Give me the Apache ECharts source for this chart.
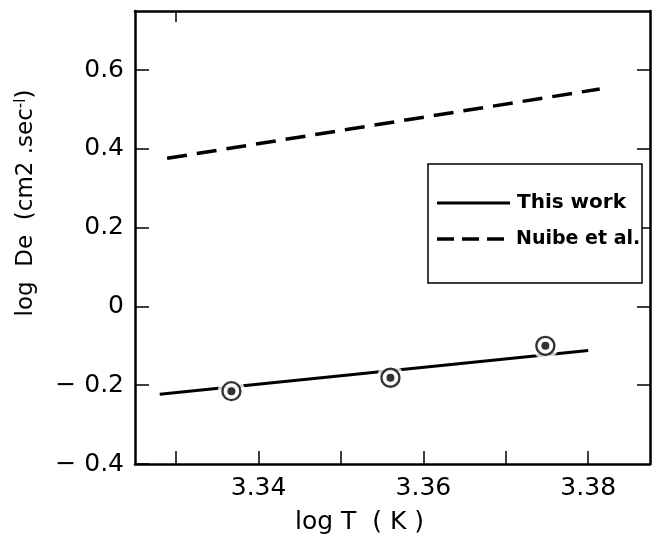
<!DOCTYPE html>
<html>
<head>
<meta charset="utf-8">
<script src="https://cdn.jsdelivr.net/npm/echarts@6/dist/echarts.min.js"></script>
<style>
html,body{margin:0;padding:0;background:#fff;}
#c{width:668px;height:541px;}
</style>
</head>
<body>
<div id="c"></div>
<script>
// Data
const thisWorkLine = [[3.328, -0.223], [3.380, -0.112]];
const thisWorkPoints = [[3.3367, -0.215], [3.356, -0.181], [3.3748, -0.100]];
const nuibeLine = [[3.3289, 0.376], [3.3814, 0.552]];
const xTickValues = [3.33, 3.34, 3.35, 3.36, 3.37, 3.38];
const xLabelValues = [3.34, 3.36, 3.38];
const yTickValues = [-0.4, -0.2, 0, 0.2, 0.4, 0.6];
const yLabelText = {'-0.4': '\u2212 0.4', '-0.2': '\u2212 0.2', '0': '0', '0.2': '0.2', '0.4': '0.4', '0.6': '0.6'};
const seriesNames = ['This work', 'Nuibe et al.'];

const FONT = 'DejaVu Sans';
const chart = echarts.init(document.getElementById('c'), null, {renderer: 'canvas'});

const axisLineStyle = {show: true, onZero: false, lineStyle: {color: '#000', width: 2.5}};

const option = {
  backgroundColor: '#fff',
  animation: false,
  grid: {left: 135, right: 18, top: 11, bottom: 77},
  xAxis: [{
    type: 'value', min: 3.325, max: 3.3875, position: 'bottom',
    axisLine: axisLineStyle, splitLine: {show: false},
    axisTick: {show: true, inside: true, length: 13, customValues: xTickValues, lineStyle: {color: '#000', width: 1.5}},
    axisLabel: {customValues: xLabelValues, formatter: v => v.toFixed(2), fontFamily: FONT, fontSize: 25, color: '#000', margin: 12}
  }, {
    type: 'value', min: 3.325, max: 3.3875, position: 'top',
    axisLine: axisLineStyle, splitLine: {show: false},
    axisTick: {show: true, inside: true, length: 11, customValues: [3.33], lineStyle: {color: '#000', width: 1.5}},
    axisLabel: {show: false}
  }],
  yAxis: [{
    type: 'value', min: -0.4, max: 0.75, position: 'left',
    axisLine: axisLineStyle, splitLine: {show: false},
    axisTick: {show: true, inside: true, length: 14, customValues: yTickValues, lineStyle: {color: '#000', width: 1.5}},
    axisLabel: {customValues: yTickValues, formatter: v => yLabelText[String(Math.round(v*10)/10)], fontFamily: FONT, fontSize: 25, color: '#000', margin: 11}
  }, {
    type: 'value', min: -0.4, max: 0.75, position: 'right',
    axisLine: axisLineStyle, splitLine: {show: false},
    axisTick: {show: true, inside: true, length: 13, customValues: yTickValues.slice(1), lineStyle: {color: '#000', width: 1.5}},
    axisLabel: {show: false}
  }],
  series: [
    {
      name: seriesNames[0], type: 'line', data: thisWorkLine, symbol: 'none',
      lineStyle: {color: '#000', width: 3}, itemStyle: {color: '#000'}, z: 2
    },
    {
      name: seriesNames[1], type: 'line', data: nuibeLine, symbol: 'none',
      lineStyle: {color: '#000', width: 3.5, type: [20, 10]}, itemStyle: {color: '#000'}, z: 2
    },
    {
      name: 'gap', type: 'scatter', data: thisWorkPoints, symbol: 'circle', symbolSize: 27,
      itemStyle: {color: '#fff'}, z: 3, silent: true
    },
    {
      name: 'ring', type: 'scatter', data: thisWorkPoints, symbol: 'circle', symbolSize: 18,
      itemStyle: {color: '#fff', borderColor: '#000', borderWidth: 2.4}, z: 4, silent: true
    },
    {
      name: 'dot', type: 'scatter', data: thisWorkPoints, symbol: 'circle', symbolSize: 8,
      itemStyle: {color: '#000'}, z: 5, silent: true
    }
  ],
  graphic: [
    // legend box
    {
      type: 'rect', shape: {x: 428, y: 164, width: 214, height: 119}, z: 10,
      style: {fill: '#fff', stroke: '#000', lineWidth: 1.5}
    },
    {
      type: 'line', shape: {x1: 437, y1: 203, x2: 510, y2: 203}, z: 11,
      style: {stroke: '#000', lineWidth: 3}
    },
    {
      type: 'text', x: 517, y: 203, z: 11,
      style: {text: seriesNames[0], fontFamily: FONT, fontSize: 20, fontWeight: 'bold', fill: '#000', verticalAlign: 'middle'}
    },
    {
      type: 'line', shape: {x1: 437, y1: 239, x2: 510, y2: 239}, z: 11,
      style: {stroke: '#000', lineWidth: 3.5, lineDash: [17, 8]}
    },
    {
      type: 'text', x: 516, y: 239, z: 11,
      style: {text: seriesNames[1], fontFamily: FONT, fontSize: 19, fontWeight: 'bold', fill: '#000', verticalAlign: 'middle'}
    },
    // axis titles
    {
      type: 'text', left: 295, top: 510,
      style: {text: 'log T  ( K )', fontFamily: FONT, fontSize: 25, fill: '#000'}
    },
    {
      type: 'text', x: 26, y: 203, rotation: Math.PI / 2,
      style: {
        text: 'log  De  (cm2 .sec{s|-l})',
        fontFamily: FONT, fontSize: 23, fill: '#000',
        align: 'center', verticalAlign: 'middle',
        rich: {s: {fontFamily: FONT, fontSize: 15, verticalAlign: 'top', padding: [0,0,9,0], fill: '#000'}}
      }
    }
  ]
};
chart.setOption(option);
</script>
</body>
</html>
